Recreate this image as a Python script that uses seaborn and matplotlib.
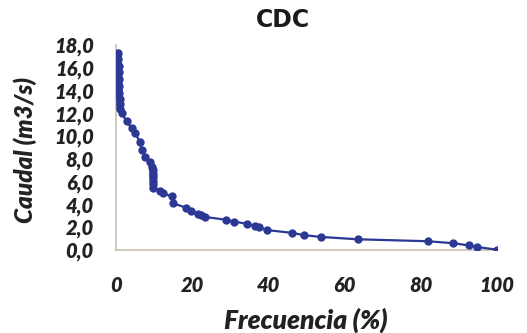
import matplotlib
matplotlib.use("Agg")
import matplotlib.pyplot as plt
import seaborn as sns
import pandas as pd
from matplotlib.ticker import FuncFormatter

# Flow duration curve data
frecuencia = [0.6, 0.65, 0.7, 0.75, 0.8, 0.85, 0.9, 0.95, 1.0, 1.05,
              1.5, 2.8, 4.1, 5.0, 6.3, 6.7, 7.6, 8.9,
              9.5, 9.6, 9.65, 9.7, 9.75, 9.8, 9.8,
              11.5, 12.3, 14.6, 15.0, 18.5, 19.6, 21.6, 22.4, 23.4,
              29.0, 31.0, 34.3, 36.5, 37.6, 39.6, 46.3, 49.4, 53.7,
              63.5, 81.8, 88.4, 92.7, 94.8, 100.0]
caudal = [17.3, 16.8, 16.2, 15.6, 15.0, 14.4, 13.8, 13.3, 12.8, 12.4,
          12.0, 11.3, 10.7, 10.25, 9.5, 8.8, 8.2, 7.75,
          7.3, 7.0, 6.7, 6.4, 6.1, 5.8, 5.45,
          5.2, 5.0, 4.7, 4.1, 3.7, 3.4, 3.2, 3.05, 2.9,
          2.65, 2.5, 2.3, 2.15, 2.0, 1.75, 1.5, 1.3, 1.15,
          0.94, 0.77, 0.6, 0.4, 0.26, 0.03]

y_ticks = [0, 2, 4, 6, 8, 10, 12, 14, 16, 18]
x_ticks = [0, 20, 40, 60, 80, 100]

df = pd.DataFrame({"Frecuencia": frecuencia, "Caudal": caudal})

sns.set_theme(style="white")
plt.rcParams["font.family"] = ["Lato", "DejaVu Sans"]

fig = plt.figure(figsize=(5.27, 3.33), dpi=100)
ax = fig.add_axes([116 / 527, 1 - 250 / 333, (497 - 116) / 527, (250 - 45) / 333])

color = "#2b3894"
# thick vertical segments of the curve (many coincident points)
ax.plot(frecuencia[:10], caudal[:10], color=color, linewidth=5, solid_capstyle="round", zorder=3)
ax.plot(frecuencia[18:25], caudal[18:25], color=color, linewidth=5, solid_capstyle="round", zorder=3)
sns.lineplot(data=df, x="Frecuencia", y="Caudal", ax=ax, color=color,
             linewidth=1.6, marker="o", markersize=6, markeredgewidth=0,
             sort=False, estimator=None, zorder=4)

ax.set_xlim(0, 100)
ax.set_ylim(0, 18)
ax.set_xticks(x_ticks)
ax.set_yticks(y_ticks)
ax.yaxis.set_major_formatter(FuncFormatter(lambda v, p: f"{v:.1f}".replace(".", ",")))
ax.tick_params(axis="both", length=0, labelcolor="#222222")
ax.tick_params(axis="y", pad=16)
ax.tick_params(axis="x", pad=19)
for lab in ax.get_xticklabels() + ax.get_yticklabels():
    lab.set_fontsize(14.5)
    lab.set_fontweight("heavy")
    lab.set_fontstyle("italic")

for s in ["top", "right"]:
    ax.spines[s].set_visible(False)
for s in ["left", "bottom"]:
    ax.spines[s].set_color("#c9bfb3")
    ax.spines[s].set_linewidth(1.2)

ax.set_xlabel("Frecuencia (%)", fontsize=19, fontweight="heavy", fontstyle="italic", color="#222222")
ax.set_ylabel("Caudal (m3/s)", fontsize=17.5, fontweight="heavy", fontstyle="italic", color="#222222")
ax.xaxis.set_label_coords((306 - 116) / 381, -(320 - 250) / 205, transform=ax.transAxes)
ax.yaxis.set_label_coords(-(116 - 25) / 381, (250 - 150) / 205, transform=ax.transAxes)
ax.xaxis.label.set_va("center")
ax.yaxis.label.set_va("center")

fig.text(283 / 527, 1 - 20 / 333, "CDC", ha="center", va="center",
         fontsize=17, fontweight="bold", family="DejaVu Sans", color="#1a1a1a")

fig.savefig("out.png", dpi=100, facecolor="white")
